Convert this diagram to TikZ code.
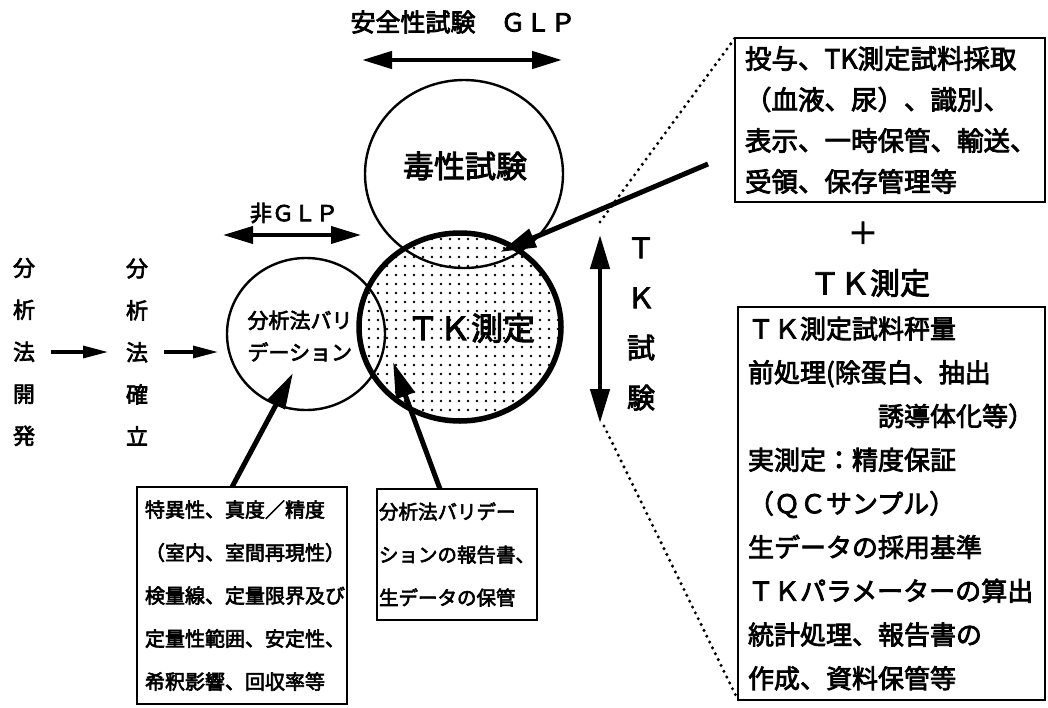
\documentclass[tikz,border=0pt]{standalone}
\usepackage{fontspec}
\setmainfont{Noto Sans CJK JP}[FakeBold=3]
\usetikzlibrary{arrows.meta,shapes.geometric,patterns.meta}
\begin{document}
\begin{tikzpicture}[x=1pt,y=-1pt,
  every node/.style={inner sep=0pt,outer sep=0pt},
  fs/.style={font=\fontsize{#1}{#1}\selectfont},
  tbox/.style={draw,line width=2.4pt,align=left,anchor=north west},
  circ/.style={draw,ellipse,line width=2.4pt,inner sep=0pt},
  dblarrow/.style={line width=4.5pt,{Triangle[length=30pt,width=17pt]}-{Triangle[length=30pt,width=17pt]}},
  smallarrow/.style={line width=3.2pt,-{Triangle[length=25pt,width=12pt]}},
  diagarrow/.style={line width=5pt,-{Triangle[length=36pt,width=19pt]}},
  dotline/.style={line width=3.4pt,line cap=round,dash pattern=on 0pt off 6.5pt}]
\useasboundingbox (0,0) rectangle (1048,707);
\fill[white] (0,0) rectangle (1048,707);

% circles
\node[circ,line width=5.5pt,pattern={Dots[radius=1.35pt,distance=9pt]},minimum width=202pt,minimum height=188pt] (tk) at (460,327) {};
\node[circ,minimum width=198pt,minimum height=188pt] (tox) at (464,174) {};
\node[circ,minimum width=158pt,minimum height=152pt] (val) at (306,334) {};

\node[fs=31] (toxt) at (465,166) {毒性試験};
\node[fs=32] (tkt) at (471,328) {ＴＫ測定};
\node[font=\fontsize{21}{32}\selectfont,align=left] (valt) at (300,336) {分析法バリ\\デーション};

% title and GLP arrows
\node[fs=25] (title) at (463,22) {安全性試験　ＧＬＰ};
\coordinate (ga) at (362,60);
\coordinate (gb) at (562,60);
\draw[dblarrow] (ga) -- (gb);
\node[fs=22] (ngl) at (294,213) {非ＧＬＰ};
\coordinate (na) at (223,235);
\coordinate (nb) at (361,235);
\draw[dblarrow,line width=3.8pt] (na) -- (nb);

% left columns
\node[font=\fontsize{22}{42}\selectfont,align=center] (c1) at (24,352) {分\\析\\法\\開\\発};
\node[font=\fontsize{22}{42}\selectfont,align=center] (c2) at (137,352) {分\\析\\法\\確\\立};
\coordinate (vw) at (c2.east -| val.west);
\draw[smallarrow] ([xshift=16pt]c1.east) -- ([xshift=-18pt]c2.west);
\draw[smallarrow] ([xshift=16pt]c2.east) -- ([xshift=-9pt]vw);

% TK test vertical arrow and label
\coordinate (vtop) at (600,235);
\coordinate (vbot) at (600,423);
\draw[dblarrow,{Triangle[length=34pt,width=19pt]}-{Triangle[length=34pt,width=19pt]}] (vbot) -- (vtop);
\node[font=\fontsize{28}{50}\selectfont,align=center] (tkv) at (641,324) {Ｔ\\Ｋ\\試\\験};

% boxes
\node[tbox,font=\fontsize{20}{43}\selectfont,text width=194pt,inner xsep=8pt,minimum height=217pt] (lbox) at (137,487)
  {特異性、真度／精度\\（室内、室間再現性）\\検量線、定量限界及び\\定量性範囲、安定性、\\希釈影響、回収率等};
\node[tbox,font=\fontsize{19.5}{43}\selectfont,text width=156pt,inner xsep=2pt,minimum height=131pt] (mbox) at (377,489)
  {分析法バリデー\\ションの報告書、\\生データの保管};
\node[tbox,font=\fontsize{26.5}{41}\selectfont,text width=290pt,inner xsep=10pt,minimum height=164pt] (ubox) at (735,38)
  {投与、TK測定試料採取\\（血液、尿）、識別、\\表示、一時保管、輸送、\\受領、保存管理等};
\node[fs=30] (plus) at (863,233) {＋};
\node[fs=30] (tkm) at (870,283) {ＴＫ測定};
\node[tbox,font=\fontsize{26}{43.7}\selectfont,text width=287pt,inner xsep=10pt,minimum height=393pt] (rbox) at (738,307)
  {ＴＫ測定試料秤量\\前処理(除蛋白、抽出\\\hspace*{5em}誘導体化等）\\実測定：精度保証\\（ＱＣサンプル）\\生データの採用基準\\ＴＫパラメーターの算出\\統計処理、報告書の\\作成、資料保管等};

% dotted guide lines
\coordinate (d1) at (600,222);
\coordinate (d2) at (604,426);
\draw[dotline] (d1) -- (ubox.north west);
\draw[dotline] (d2) -- (rbox.south west);

% pointer arrows
\coordinate (tipv) at (293,373);
\coordinate (tipm) at (393,362);
\coordinate (tipt) at (500,252);
\coordinate (rst) at (708,164);
\draw[diagarrow] ([xshift=-10pt]lbox.north) -- (tipv);
\draw[diagarrow] ([xshift=-17pt]mbox.north) -- (tipm);
\draw[diagarrow] (rst) -- (tipt);
\end{tikzpicture}
\end{document}
